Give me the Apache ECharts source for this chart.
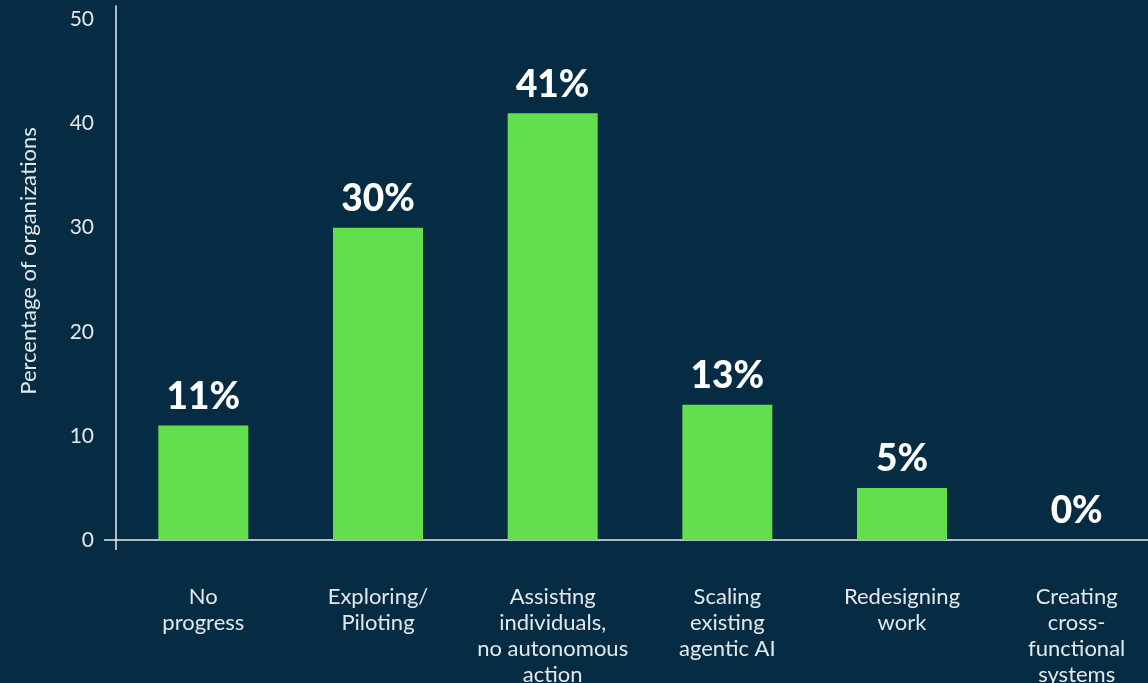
<!DOCTYPE html>
<html>
<head>
<meta charset="utf-8">
<script src="https://cdn.jsdelivr.net/npm/echarts@6/dist/echarts.min.js"></script>
<style>
  html, body { margin: 0; padding: 0; background: #052c43; }
  #chart { width: 1148px; height: 683px; }
</style>
</head>
<body>
<div id="chart"></div>
<script>
// Stage of agentic AI adoption and share of organizations at each stage
const categories = [
  'No\nprogress',
  'Exploring/\nPiloting',
  'Assisting\nindividuals,\nno autonomous\naction',
  'Scaling\nexisting\nagentic AI',
  'Redesigning\nwork',
  'Creating\ncross-\nfunctional\nsystems'
];
const shares = [11, 30, 41, 13, 5, 0];
const yTicks = [0, 10, 20, 30, 40, 50];

const FONT = 'Lato, "Noto Sans", sans-serif';
const AXIS_COLOR = '#e8ecee';
const TEXT_COLOR = '#e4e8ea';

const chart = echarts.init(document.getElementById('chart'), null, { renderer: 'canvas' });

chart.setOption({
  backgroundColor: '#052c43',
  animation: false,
  grid: {
    left: 116, top: 6, width: 1048, bottom: 143,
    containLabel: false,
    outerBoundsMode: 'none'
  },
  xAxis: {
    type: 'category',
    data: categories,
    axisLine: { show: true, lineStyle: { color: AXIS_COLOR, width: 1.5 } },
    axisTick: {
      show: true,
      length: 10,
      interval: function (index) { return index === 0; },
      lineStyle: { color: AXIS_COLOR, width: 1.5 }
    },
    axisLabel: {
      color: TEXT_COLOR,
      fontFamily: FONT,
      fontSize: 22,
      lineHeight: 26,
      margin: 44,
      interval: 0,
      align: 'center'
    }
  },
  yAxis: {
    type: 'value',
    min: 0,
    max: 51.3,
    name: 'Percentage of organizations',
    nameLocation: 'middle',
    nameGap: 76,
    nameRotate: 90,
    nameTextStyle: { color: TEXT_COLOR, fontFamily: FONT, fontSize: 22, padding: [0, 0, 0, 24] },
    axisLine: { show: true, lineStyle: { color: AXIS_COLOR, width: 1.5 } },
    axisTick: {
      show: true,
      customValues: [0],
      length: 12,
      lineStyle: { color: AXIS_COLOR, width: 1.5 }
    },
    splitLine: { show: false },
    axisLabel: {
      customValues: yTicks,
      color: TEXT_COLOR,
      fontFamily: FONT,
      fontSize: 21,
      margin: 22
    }
  },
  series: [{
    type: 'bar',
    data: shares,
    barWidth: 90,
    itemStyle: { color: '#63df4e' },
    label: {
      show: true,
      position: 'top',
      distance: 10,
      formatter: function (p) { return p.value + '%'; },
      color: '#ffffff',
      fontFamily: FONT,
      fontWeight: 900,
      fontSize: 37
    }
  }]
});
</script>
</body>
</html>
